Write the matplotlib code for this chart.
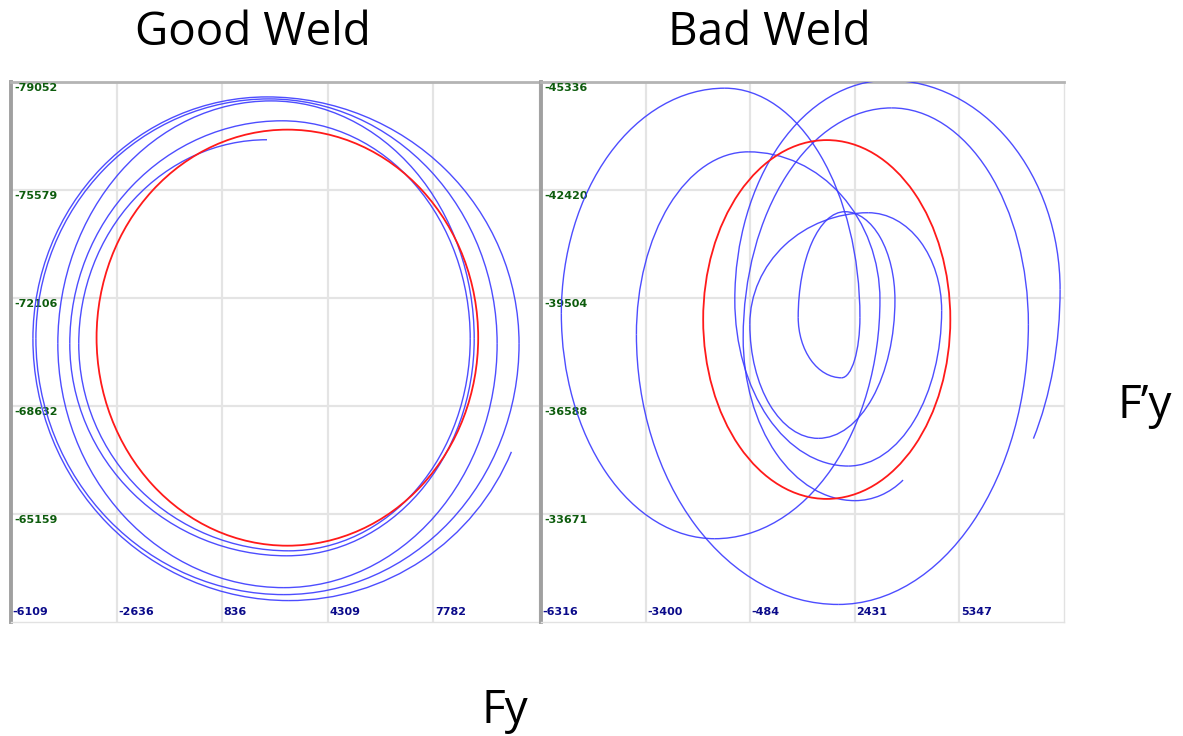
import numpy as np
import matplotlib
matplotlib.use("Agg")
import matplotlib.pyplot as plt
from matplotlib.patches import Arc, Ellipse
import matplotlib.transforms as mtransforms

# ---------------- data ----------------
good_xticks = [-6109, -2636, 836, 4309, 7782]
good_yticks = [-79052, -75579, -72106, -68632, -65159]
good_xlim = [-6109, 11255]
good_ylim = [-61686, -79052]
good_ref = [2980, -70830, 12550, 13380]          # centre x, centre y, width, height
# turning points of the measured trace (alternating top/bottom and left/right)
good_trace_x = [2310, -3881, 3031, 8993, 2802, -4176, 2966, 9124, 2441, -4569,
                2867, 9878, 2376, -5290, 2867, 10599, 2310, -5388, 3031, 10959]
good_trace_y = [-77195, -70633, -63975, -70793, -77804, -70633, -63815, -70793,
                -78444, -70633, -62791, -70633, -78508, -70793, -62567, -70633,
                -78572, -70793, -62375, -70153]
good_first_kind = "V"
good_start = None
good_end = [10304, -67176]

bad_xticks = [-6316, -3400, -484, 2431, 5347]
bad_yticks = [-45336, -42420, -39504, -36588, -33671]
bad_xlim = [-6316, 8264]
bad_ylim = [-30755, -45336]
bad_ref = [1650, -38923, 6890, 9689]
bad_trace_x = [4435, 2435, -680, 3458, 7271, 1970, -3656, -541, 3133, -1471,
               -5749, -1192, 2575, 2063, 854, 2156, 3551, 1412, -494, 2807,
               4853, 2249, -913, 3365, 8155, 4295]
bad_trace_y = [-36181, -34032, -38423, -44636, -38797, -31229, -38517, -43450,
               -39451, -33004, -39077, -45169, -38984, -37349, -38984, -41834,
               -39451, -35714, -38797, -41806, -39171, -34966, -39451, -45384,
               -39731, -32911]
bad_first_kind = "H"
bad_start = [3970, -34359]
bad_end = [7550, -35527]

titles = ["Good Weld", "Bad Weld"]
axis_names = ["Fy", "F\u2019y"]

# ---------------- drawing helpers ----------------
BLUE = "#3a3aff"
RED = "#ff1a1a"


def ang(px, py, cx, cy):
    return np.degrees(np.arctan2(py - cy, px - cx)) % 360


def draw_trace(ax, xs, ys, first_kind, start=None, end=None):
    n = len(xs)
    for i in range(n - 1):
        p = (xs[i], ys[i])
        q = (xs[i + 1], ys[i + 1])
        kind_p = first_kind if i % 2 == 0 else ("H" if first_kind == "V" else "V")
        if kind_p == "H":
            H, V = p, q
        else:
            H, V = q, p
        cx, cy = V[0], H[1]
        w = 2 * abs(H[0] - cx)
        h = 2 * abs(V[1] - cy)
        a = ang(p[0], p[1], cx, cy)
        b = ang(q[0], q[1], cx, cy)
        if i == 0 and start is not None:
            a = ang(start[0], start[1], cx, cy)
        if i == n - 2 and end is not None:
            b = ang(end[0], end[1], cx, cy)
        if (b - a) % 360 <= 180:
            t1, t2 = a, b
        else:
            t1, t2 = b, a
        ax.add_patch(Arc((cx, cy), w, h, theta1=t1, theta2=t2,
                         color=BLUE, lw=1.0, alpha=0.9, zorder=3))


def setup_panel(ax, xticks, yticks, xlim, ylim):
    ax.set_xlim(*xlim)
    ax.set_ylim(*ylim)
    ax.set_xticks(xticks)
    ax.set_yticks(yticks)
    ax.tick_params(length=0, labelbottom=False, labelleft=False)
    ax.grid(True, color="#e4e4e4", lw=1.6)
    ax.set_axisbelow(True)
    for side in ["right", "bottom"]:
        ax.spines[side].set_color("#e2e2e2")
        ax.spines[side].set_linewidth(1.0)
    ax.spines["left"].set_color("#a0a0a0")
    ax.spines["left"].set_linewidth(2.8)
    ax.spines["top"].set_color("#b4b4b4")
    ax.spines["top"].set_linewidth(2.0)
    fig = ax.figure
    lf = ["Liberation Sans Narrow", "DejaVu Sans"]
    off_x = mtransforms.offset_copy(ax.get_xaxis_transform(), fig=fig, x=1.5, y=0, units="dots")
    for t in xticks:
        ax.text(t, 0.018, f"{t}", transform=off_x, ha="left", va="center",
                fontsize=8, fontweight="bold", color="#0a0a8a", family=lf)
    off_y = mtransforms.offset_copy(ax.get_yaxis_transform(), fig=fig, x=3, y=-1.0, units="dots")
    for t in yticks:
        ax.text(0.0, t, f"{t}", transform=off_y, ha="left", va="top",
                fontsize=8, fontweight="bold", color="#0d5c0d", family=lf)


fig = plt.figure(figsize=(11.83, 7.36), dpi=100)
W, Hh = 1183.0, 736.0
top_px, bot_px = 82, 622
ax1 = fig.add_axes([11 / W, 1 - bot_px / Hh, (539 - 11) / W, (bot_px - top_px) / Hh])
ax2 = fig.add_axes([541 / W, 1 - bot_px / Hh, (1064 - 541) / W, (bot_px - top_px) / Hh])

setup_panel(ax1, good_xticks, good_yticks, good_xlim, good_ylim)
setup_panel(ax2, bad_xticks, bad_yticks, bad_xlim, bad_ylim)

ax1.add_patch(Ellipse((good_ref[0], good_ref[1]), good_ref[2], good_ref[3],
                      fill=False, ec=RED, lw=1.3, zorder=4))
ax2.add_patch(Ellipse((bad_ref[0], bad_ref[1]), bad_ref[2], bad_ref[3],
                      fill=False, ec=RED, lw=1.3, zorder=4))

draw_trace(ax1, good_trace_x, good_trace_y, good_first_kind, good_start, good_end)
draw_trace(ax2, bad_trace_x, bad_trace_y, bad_first_kind, bad_start, bad_end)

tfont = ["Open Sans", "DejaVu Sans"]
fig.text(253 / W, 1 - 33 / Hh, titles[0], ha="center", va="center", fontsize=33, family=tfont)
fig.text(769 / W, 1 - 33 / Hh, titles[1], ha="center", va="center", fontsize=33, family=tfont)
fig.text(1145 / W, 1 - 406 / Hh, axis_names[1], ha="center", va="center", fontsize=33, family=tfont)
fig.text(505 / W, 1 - 711 / Hh, axis_names[0], ha="center", va="center", fontsize=33, family=tfont)

fig.savefig("out.png", dpi=100)
